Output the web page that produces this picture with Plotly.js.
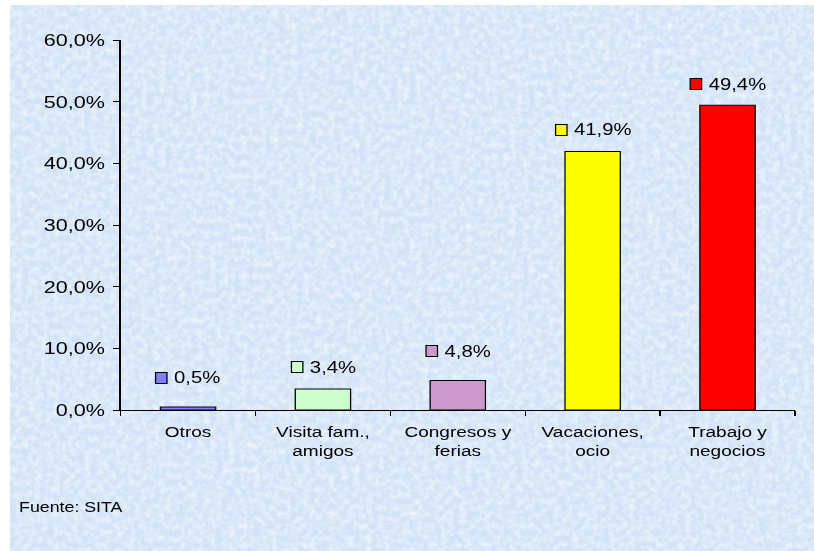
<!DOCTYPE html>
<html>
<head>
<meta charset="utf-8">
<script src="https://cdn.plot.ly/plotly-3.0.1.min.js"></script>
<style>
  html, body { margin: 0; padding: 0; background: #ffffff; width: 814px; height: 551px; overflow: hidden; }
  #bg {
    position: absolute; left: 10px; top: 5px; width: 804px; height: 546px;
    background-color: #d2e3f7;
    background-image: url("data:image/svg+xml;utf8,<svg xmlns='http://www.w3.org/2000/svg' width='804' height='546'><filter id='n' x='0' y='0' width='100%' height='100%'><feTurbulence type='fractalNoise' baseFrequency='0.16' numOctaves='4' seed='11'/><feColorMatrix values='0 0 0 0 1  0 0 0 0 1  0 0 0 0 1  1.2 0 0 0 -0.42'/></filter><rect width='100%' height='100%' filter='url(%23n)'/></svg>");
  }
  #chart {
    position: absolute; left: 0; top: 0; width: 641px; height: 551px;
    transform: scaleX(1.2699); transform-origin: 0 0;
  }
</style>
</head>
<body>
<div id="bg"></div>
<div id="chart"></div>
<script>
// ---- data ----
const categories = ["Otros", "Visita fam.,<br>amigos", "Congresos y<br>ferias", "Vacaciones,<br>ocio", "Trabajo y<br>negocios"];
const values = [0.5, 3.4, 4.8, 41.9, 49.4];
const yTicks = [0, 10, 20, 30, 40, 50, 60];
const yTickLabels = ["0,0%", "10,0%", "20,0%", "30,0%", "40,0%", "50,0%", "60,0%"];

// ---- styles ----
const barColors = ["#8080ff", "#ccffcc", "#cc99cc", "#ffff00", "#ff0000"];
const labelYShift = [29, 22, 29, 22, 21];
const FONT = "Liberation Sans, Arial, sans-serif";
const VALUE_FONT_SIZE = 16;

function fmt(v) { return v.toFixed(1).replace(".", ",") + "%"; }

const ctx = document.createElement("canvas").getContext("2d");
ctx.font = VALUE_FONT_SIZE + "px 'Liberation Sans', Arial";

const SQ_W = 8, SQ_H = 10, GAP = 5;
const annotations = [];
values.forEach((v, i) => {
  const txt = fmt(v);
  const tw = ctx.measureText(txt).width;
  const group = SQ_W + 2 + GAP + tw;
  annotations.push({
    x: categories[i], y: v, xref: "x", yref: "y",
    text: " ", showarrow: false, xanchor: "left", yanchor: "middle",
    xshift: -group / 2, yshift: labelYShift[i],
    width: SQ_W, height: SQ_H, borderpad: 0,
    bgcolor: barColors[i], bordercolor: "#000000", borderwidth: 1,
    font: { size: 6 }
  });
  annotations.push({
    x: categories[i], y: v, xref: "x", yref: "y",
    text: txt, showarrow: false, xanchor: "left", yanchor: "middle",
    xshift: -group / 2 + SQ_W + 2 + GAP - 1, yshift: labelYShift[i],
    borderpad: 0,
    font: { family: FONT, size: VALUE_FONT_SIZE, color: "#000000" }
  });
});
annotations.push({
  xref: "paper", yref: "paper", x: -0.1544, y: -0.262,
  xanchor: "left", yanchor: "middle", showarrow: false,
  text: "Fuente: SITA",
  font: { family: FONT, size: 14, color: "#000000" }
});

const trace = {
  type: "bar",
  x: categories,
  y: values,
  marker: { color: barColors, line: { color: "#000000", width: 1 } },
  hoverinfo: "skip"
};

const layout = {
  width: 641, height: 551,
  margin: { l: 95, r: 15, t: 40, b: 141 },
  paper_bgcolor: "rgba(0,0,0,0)",
  plot_bgcolor: "rgba(0,0,0,0)",
  showlegend: false,
  bargap: 0.59,
  font: { family: FONT, color: "#000000" },
  xaxis: {
    type: "category",
    tickson: "boundaries",
    ticks: "outside", ticklen: 5, tickcolor: "#000000",
    showline: true, linecolor: "#000000", linewidth: 1,
    showgrid: false, zeroline: false,
    tickfont: { family: FONT, size: 15, color: "#000000" },
    ticklabelstandoff: 8
  },
  yaxis: {
    range: [0, 60],
    tickmode: "array",
    tickvals: yTicks,
    ticktext: yTickLabels,
    ticks: "outside", ticklen: 5, tickcolor: "#000000",
    showline: true, linecolor: "#000000", linewidth: 1,
    showgrid: false, zeroline: false,
    tickfont: { family: FONT, size: 17, color: "#000000" },
    ticklabelstandoff: 3
  },
  annotations: annotations
};

Plotly.newPlot("chart", [trace], layout, { displayModeBar: false, staticPlot: true });
</script>
</body>
</html>
